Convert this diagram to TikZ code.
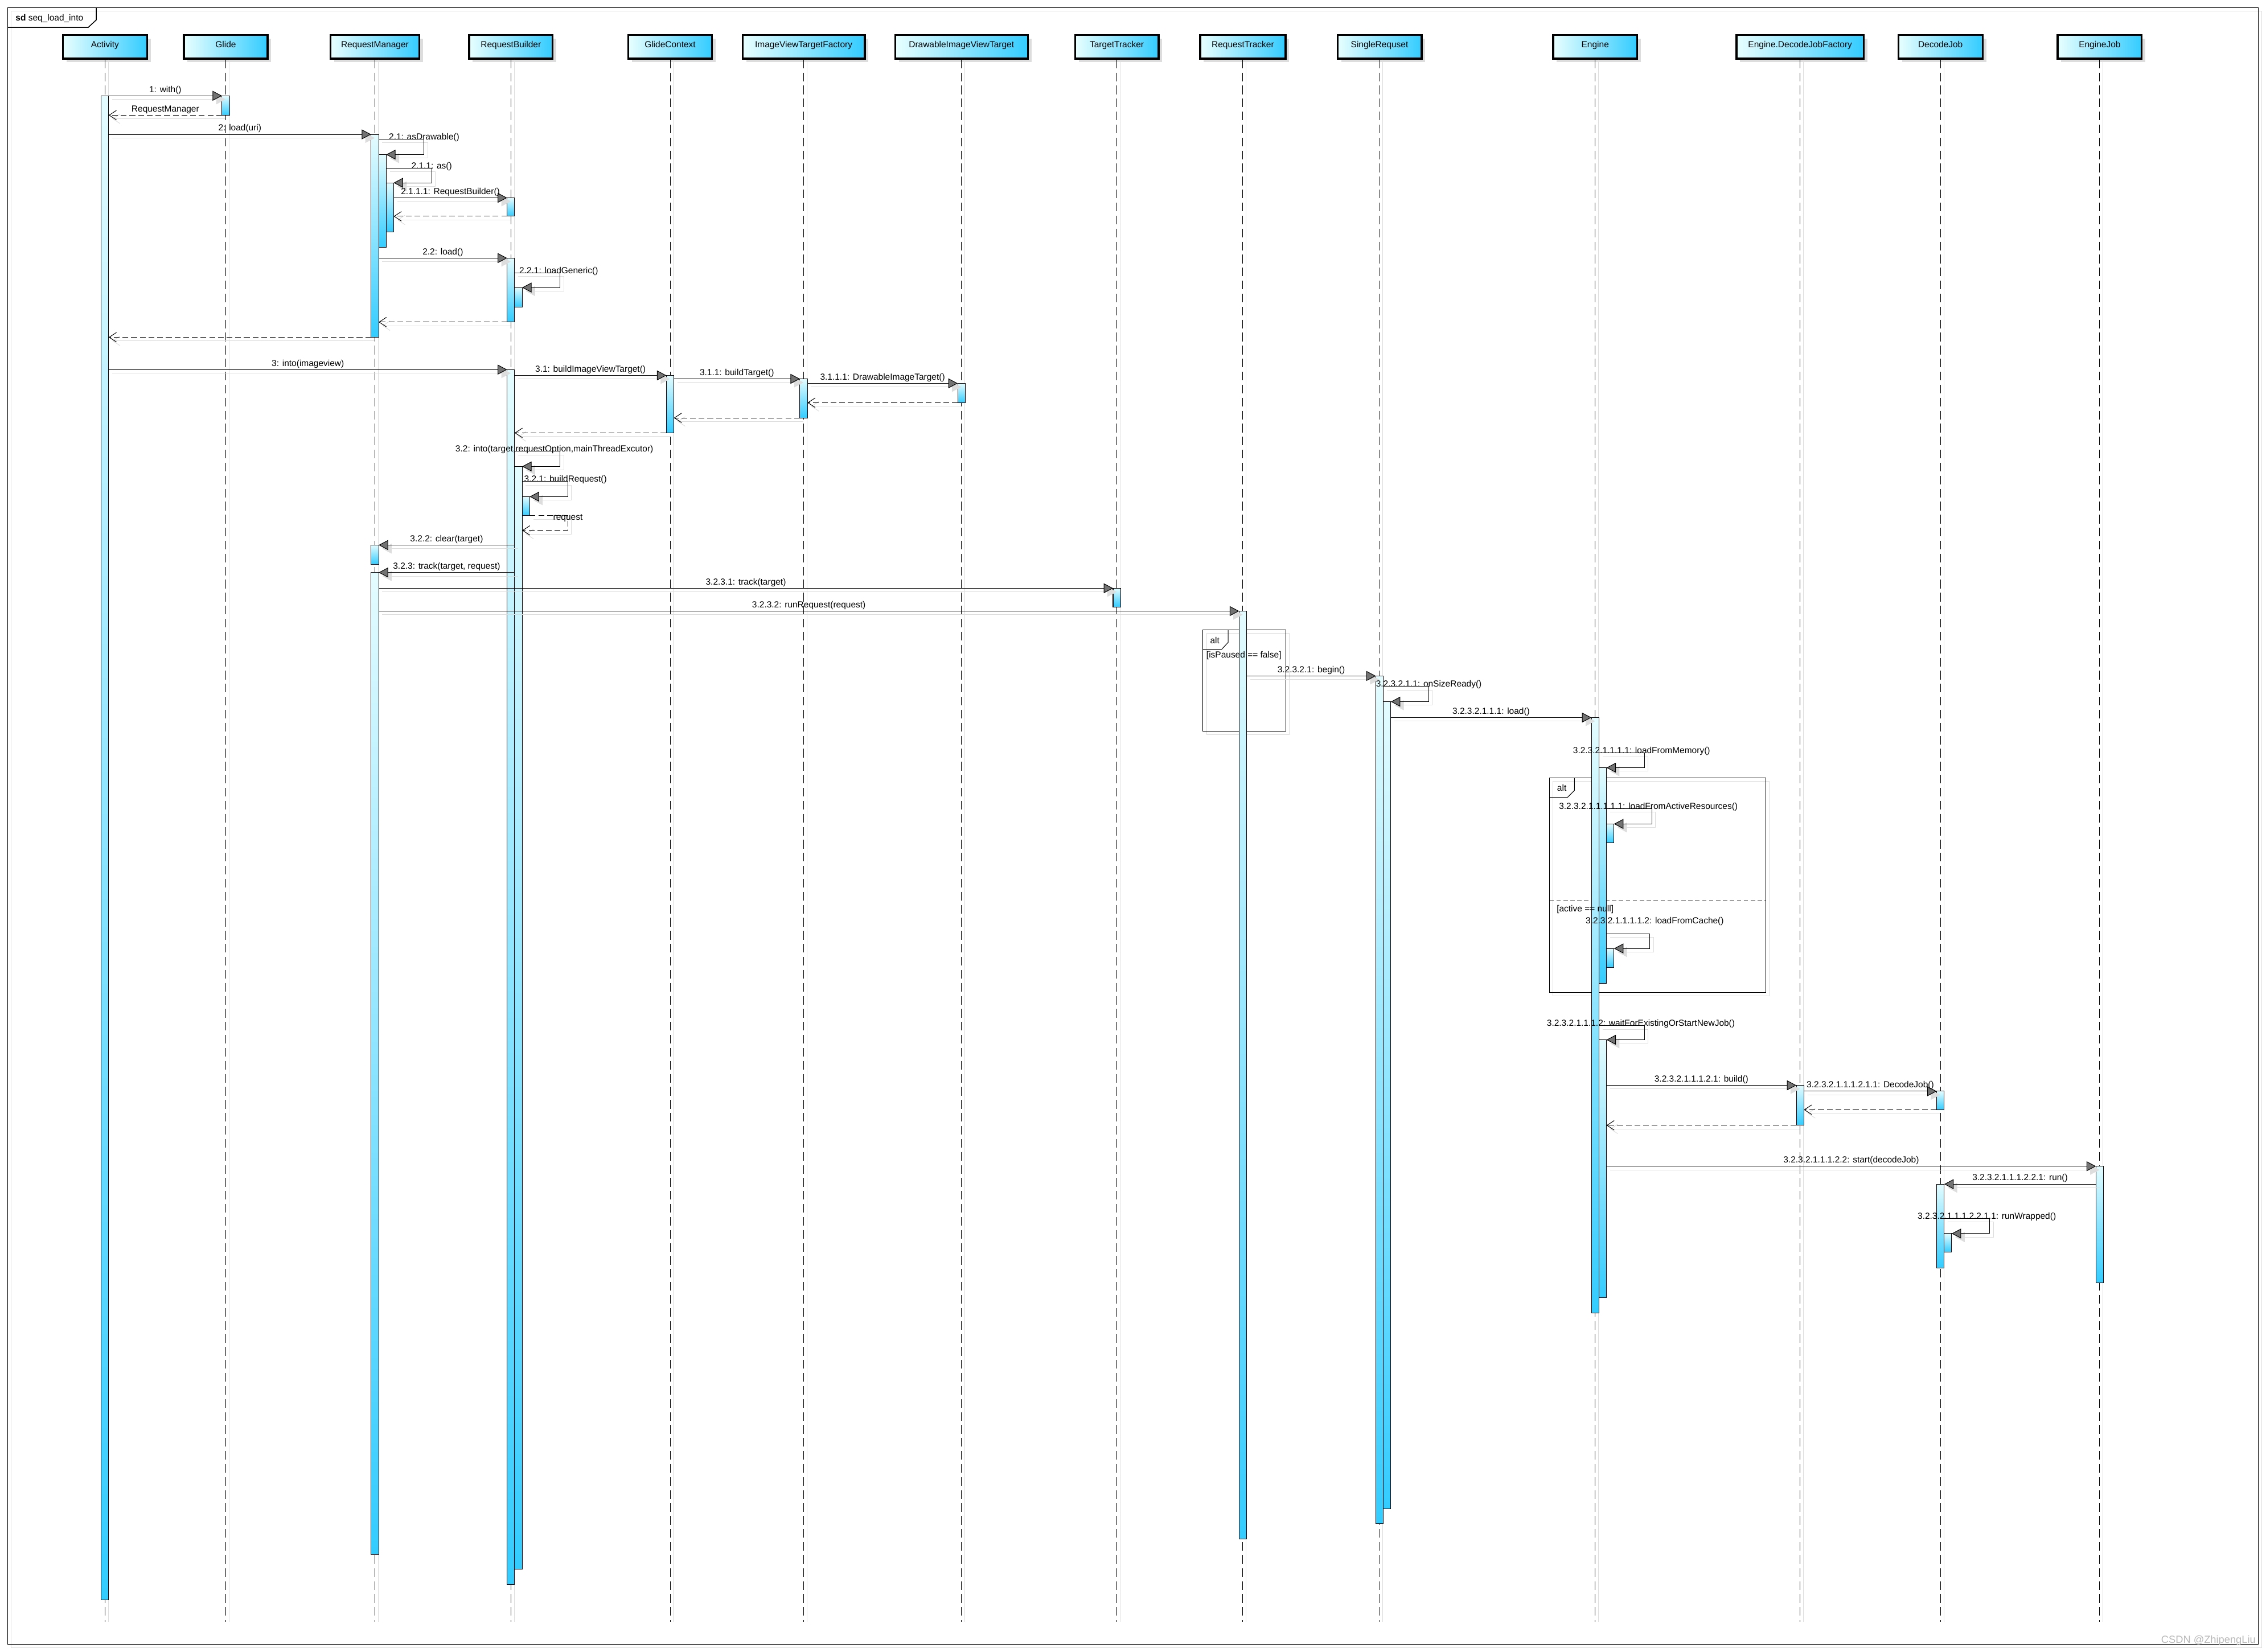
\documentclass[tikz,border=0pt]{standalone}
\usepackage{fontspec}
\setmainfont{Liberation Sans}
\usetikzlibrary{arrows.meta}
\definecolor{headleft}{RGB}{232,255,255}
\definecolor{headright}{RGB}{51,204,255}
\definecolor{bartop}{RGB}{228,252,255}
\definecolor{barbot}{RGB}{51,204,255}
\definecolor{shadowgray}{RGB}{221,221,221}
\def\lab{\fontsize{6.1}{7}\selectfont}
\tikzset{
	head/.style={draw, line width=1.3pt, left color=headleft, right color=headright, minimum height=16.3pt, inner sep=0pt, text height=4.5pt, text depth=4pt, font=\lab, preaction={fill=shadowgray, transform canvas={shift={(2.5pt,-2.5pt)}}}},
	bar/.style={draw, line width=0.4pt, top color=bartop, bottom color=barbot, minimum width=5.2pt, inner sep=0pt, outer sep=0pt, anchor=north},
	life/.style={line width=0.4pt, dash pattern=on 6pt off 3pt, preaction={draw=shadowgray, solid, transform canvas={shift={(2.3pt,0pt)}}}},
	msg/.style={line width=0.4pt, -{Triangle[length=6.5pt,width=6.8pt,fill=black!55]}, preaction={draw=shadowgray, -{Triangle[length=6.5pt,width=6.8pt]}, transform canvas={shift={(2.5pt,-2.5pt)}}}},
	ret/.style={line width=0.4pt, dash pattern=on 4pt off 2pt, -{Straight Barb[length=5pt,width=6.6pt]}, preaction={draw=shadowgray, solid, -{Straight Barb[length=5pt,width=6.6pt]}, transform canvas={shift={(2.5pt,-2.5pt)}}}},
	mlab/.style={font=\lab, midway, above, inner sep=1pt},
	slab/.style={font=\lab, inner sep=0pt, yshift=1.2pt},
	frag/.style={line width=0.4pt, preaction={draw=shadowgray, transform canvas={shift={(2.5pt,-2.5pt)}}}},
}

\begin{document}
\begin{tikzpicture}[x=1pt, y=-1pt]
			%%%%% START %%%%%
			\useasboundingbox (0,0) rectangle (1568,1143.2);
			
			\draw[frag, line width=0.6pt] (5.3,5.3) rectangle (1562.6,1138);
			\draw[line width=0.6pt] (5.3,19) -- (61,19) -- (66.6,13.8) -- (66.6,5.3);
			\node[font=\lab, anchor=west, inner sep=0pt] (sdname) at (10.6,12.9) {\textbf{sd} seq\_load\_into};
			
			\node[head, minimum width=58.3pt] (act) at (72.6,32.45) {Activity};
			\node[head, minimum width=58pt] (glide) at (156.2,32.45) {Glide};
			\node[head, minimum width=61.6pt] (rm) at (259.4,32.45) {RequestManager};
			\node[head, minimum width=57.8pt] (rb) at (353.5,32.45) {RequestBuilder};
			\node[head, minimum width=57.9pt] (gc) at (463.7,32.45) {GlideContext};
			\node[head, minimum width=84.6pt] (ivtf) at (556.1,32.45) {ImageViewTargetFactory};
			\node[head, minimum width=91.8pt] (divt) at (665.3,32.45) {DrawableImageViewTarget};
			\node[head, minimum width=57.8pt] (tt) at (772.8,32.45) {TargetTracker};
			\node[head, minimum width=59.1pt] (rt) at (860,32.45) {RequestTracker};
			\node[head, minimum width=58.2pt] (sr) at (954.6,32.45) {SingleRequset};
			\node[head, minimum width=58.2pt] (eng) at (1103.8,32.45) {Engine};
			\node[head, minimum width=88.1pt] (edjf) at (1245.6,32.45) {Engine.DecodeJobFactory};
			\node[head, minimum width=58.3pt] (dj) at (1342.7,32.45) {DecodeJob};
			\node[head, minimum width=58.2pt] (ej) at (1452.9,32.45) {EngineJob};
			
			\coordinate (bot) at (0,1122.3);
			\foreach \h in {act,glide,rm,rb,gc,ivtf,divt,tt,rt,sr,eng,edjf,dj,ej}
				\draw[life] (\h.south) -- (\h.south |- bot);
			
			\draw[frag] (832.4,435.8) rectangle (889.6,506);
			\draw[line width=0.4pt] (849.8,435.8) -- (849.8,444.6) -- (845.3,449.4) -- (832.4,449.4);
			\node[font=\lab, inner sep=0pt] (alt1) at (840.6,443.2) {alt};
			
			\draw[frag] (1072.2,538.2) rectangle (1221.8,686.7);
			\draw[line width=0.4pt] (1089.5,538.2) -- (1089.5,547) -- (1084.7,551.8) -- (1072.2,551.8);
			\node[font=\lab, inner sep=0pt] (alt2) at (1080.7,545.3) {alt};
			\draw[line width=0.4pt, dash pattern=on 3pt off 1.8pt] (1072.2,623.5) -- (1221.8,623.5);
			
			\node[bar, minimum height=1041pt] (act1) at (72.6,66.3) {};
			\node[bar, minimum height=13.4pt] (glide1) at (156.2,66.3) {};
			\node[bar, minimum height=140.4pt] (rm1) at (259.4,93) {};
			\node[bar, minimum height=64.1pt] (rm2) at (264.6,107) {};
			\node[bar, minimum height=34pt] (rm3) at (269.8,126.5) {};
			\node[bar, minimum height=12.8pt] (rb1) at (353.5,136.9) {};
			\node[bar, minimum height=44.3pt] (rb2) at (353.5,178.6) {};
			\node[bar, minimum height=13.4pt] (rb3) at (358.7,199) {};
			\node[bar, minimum height=840.8pt] (rb4) at (353.5,255.8) {};
			\node[bar, minimum height=39.8pt] (gc1) at (463.7,259.8) {};
			\node[bar, minimum height=27pt] (ivtf1) at (556.1,262.2) {};
			\node[bar, minimum height=13.4pt] (divt1) at (665.3,265.3) {};
			\node[bar, minimum height=763.2pt] (rb5) at (358.7,322.8) {};
			\node[bar, minimum height=13.1pt] (rb6) at (363.9,343.7) {};
			\node[bar, minimum height=13.3pt] (rm4) at (259.4,377.2) {};
			\node[bar, minimum height=679.6pt] (rm5) at (259.4,396.2) {};
			\node[bar, minimum height=12.9pt] (tt1) at (772.8,407.1) {};
			\node[bar, minimum height=642.2pt] (rt1) at (860,422.9) {};
			\node[bar, minimum height=586.7pt] (sr1) at (954.6,467.8) {};
			\node[bar, minimum height=558.5pt] (sr2) at (959.8,485.6) {};
			\node[bar, minimum height=412.2pt] (eng1) at (1103.8,496.6) {};
			\node[bar, minimum height=149.1pt] (eng2) at (1109,531.3) {};
			\node[bar, minimum height=13.2pt] (eng3) at (1114.2,570.2) {};
			\node[bar, minimum height=13.1pt] (eng4) at (1114.2,656.4) {};
			\node[bar, minimum height=178.6pt] (eng5) at (1109,719.6) {};
			\node[bar, minimum height=27.7pt] (edjf1) at (1245.6,751.1) {};
			\node[bar, minimum height=12.8pt] (dj1) at (1342.7,755.2) {};
			\node[bar, minimum height=80.6pt] (ej1) at (1452.9,807.1) {};
			\node[bar, minimum height=57.9pt] (dj2) at (1342.7,819.5) {};
			\node[bar, minimum height=12.8pt] (dj3) at (1347.9,853.7) {};
			
			\node[font=\lab, anchor=west, inner sep=0pt] (guard1) at (834.6,453.8) {[isPaused == false]};
			\node[font=\lab, anchor=west, inner sep=0pt] (guard2) at (1077,629.5) {[active == null]};
			
			\draw[msg] (act1.east |- glide1.north west) -- (glide1.north west) node[mlab] {1: with()};
			\draw[ret] (glide1.south west) -- (act1.east |- glide1.south west) node[mlab] {RequestManager};
			\draw[msg] (act1.east |- rm1.north west) -- (rm1.north west) node[mlab] {2: load(uri)};
			\draw[msg] (rm1.east |- 0,96.3) -- ++(31.5,0) node[slab] {2.1: asDrawable()} |- (rm2.north east);
			\draw[msg] (rm2.east |- 0,116.4) -- ++(31.5,0) node[slab] {2.1.1: as()} |- (rm3.north east);
			\draw[msg] (rm3.east |- rb1.north west) -- (rb1.north west) node[mlab] {2.1.1.1: RequestBuilder()};
			\draw[ret] (rb1.south west) -- (rm3.east |- rb1.south west);
			\draw[msg] (rm1.east |- rb2.north west) -- (rb2.north west) node[mlab] {2.2: load()};
			\draw[msg] (rb2.east |- 0,188.9) -- ++(31.5,0) node[slab, xshift=-1pt] {2.2.1: loadGeneric()} |- (rb3.north east);
			\draw[ret] (rb2.south west) -- (rm1.east |- rb2.south west);
			\draw[ret] (rm1.south west) -- (act1.east |- rm1.south west);
			
			\draw[msg] (act1.east |- rb4.north west) -- (rb4.north west) node[mlab] {3: into(imageview)};
			\draw[msg] (rb4.east |- gc1.north west) -- (gc1.north west) node[mlab] {3.1: buildImageViewTarget()};
			\draw[msg] (gc1.east |- ivtf1.north west) -- (ivtf1.north west) node[mlab] {3.1.1: buildTarget()};
			\draw[msg] (ivtf1.east |- divt1.north west) -- (divt1.north west) node[mlab] {3.1.1.1: DrawableImageTarget()};
			\draw[ret] (divt1.south west) -- (ivtf1.east |- divt1.south west);
			\draw[ret] (ivtf1.south west) -- (gc1.east |- ivtf1.south west);
			\draw[ret] (gc1.south west) -- (rb4.east |- gc1.south west);
			\draw[msg] (rb4.east |- 0,312.3) -- ++(31.5,0) node[slab, xshift=-4pt] {3.2: into(target,requestOption,mainThreadExcutor)} |- (rb5.north east);
			\draw[msg] (rb5.east |- 0,333.2) -- ++(31.5,0) node[slab, xshift=-1.5pt] {3.2.1: buildRequest()} |- (rb6.north east);
			\draw[ret] (rb6.south east) -- ++(26.5,0) node[slab, yshift=-2.9pt] {request} |- (rb5.east |- 0,367.1);
			\draw[msg] (rb4.east |- rm4.north east) -- (rm4.north east) node[mlab] {3.2.2: clear(target)};
			\draw[msg] (rb4.east |- rm5.north east) -- (rm5.north east) node[mlab] {3.2.3: track(target, request)};
			\draw[msg] (rm5.east |- tt1.north west) -- (tt1.north west) node[mlab] {3.2.3.1: track(target)};
			\draw[msg] (rm5.east |- rt1.north west) -- (rt1.north west) node[mlab] {3.2.3.2: runRequest(request)};
			
			\draw[msg] (rt1.east |- sr1.north west) -- (sr1.north west) node[mlab] {3.2.3.2.1: begin()};
			\draw[msg] (sr1.east |- 0,475) -- ++(31.5,0) node[slab] {3.2.3.2.1.1: onSizeReady()} |- (sr2.north east);
			\draw[msg] (sr2.east |- eng1.north west) -- (eng1.north west) node[mlab] {3.2.3.2.1.1.1: load()};
			\draw[msg] (eng1.east |- 0,521.2) -- ++(31.5,0) node[slab, xshift=-2pt] {3.2.3.2.1.1.1.1: loadFromMemory()} |- (eng2.north east);
			\draw[msg] (eng2.east |- 0,559.6) -- ++(31.5,0) node[slab, xshift=-2.5pt] {3.2.3.2.1.1.1.1.1: loadFromActiveResources()} |- (eng3.north east);
			\draw[msg] (eng2.east |- 0,646.2) -- ++(30,0) node[slab, xshift=3.4pt, yshift=7.3pt] {3.2.3.2.1.1.1.1.2: loadFromCache()} |- (eng4.north east);
			\draw[msg] (eng1.east |- 0,709.8) -- ++(31.5,0) node[slab, xshift=-2.5pt] {3.2.3.2.1.1.1.2: waitForExistingOrStartNewJob()} |- (eng5.north east);
			\draw[msg] (eng5.east |- edjf1.north west) -- (edjf1.north west) node[mlab] {3.2.3.2.1.1.1.2.1: build()};
			\draw[msg] (edjf1.east |- dj1.north west) -- (dj1.north west) node[mlab] {3.2.3.2.1.1.1.2.1.1: DecodeJob()};
			\draw[ret] (dj1.south west) -- (edjf1.east |- dj1.south west);
			\draw[ret] (edjf1.south west) -- (eng5.east |- edjf1.south west);
			\draw[msg] (eng5.east |- ej1.north west) -- (ej1.north west) node[mlab] {3.2.3.2.1.1.1.2.2: start(decodeJob)};
			\draw[msg] (ej1.west |- dj2.north east) -- (dj2.north east) node[mlab] {3.2.3.2.1.1.1.2.2.1: run()};
			\draw[msg] (dj2.east |- 0,843.1) -- ++(31.5,0) node[slab, xshift=-2pt] {3.2.3.2.1.1.1.2.2.1.1: runWrapped()} |- (dj3.north east);
			
			\node[font=\fontsize{7.2}{8}\selectfont, text=black!28, anchor=east, inner sep=0pt] (wm) at (1561,1135.5) {CSDN @ZhipengLiu};
			%%%%% END %%%%%
\end{tikzpicture}
\end{document}
